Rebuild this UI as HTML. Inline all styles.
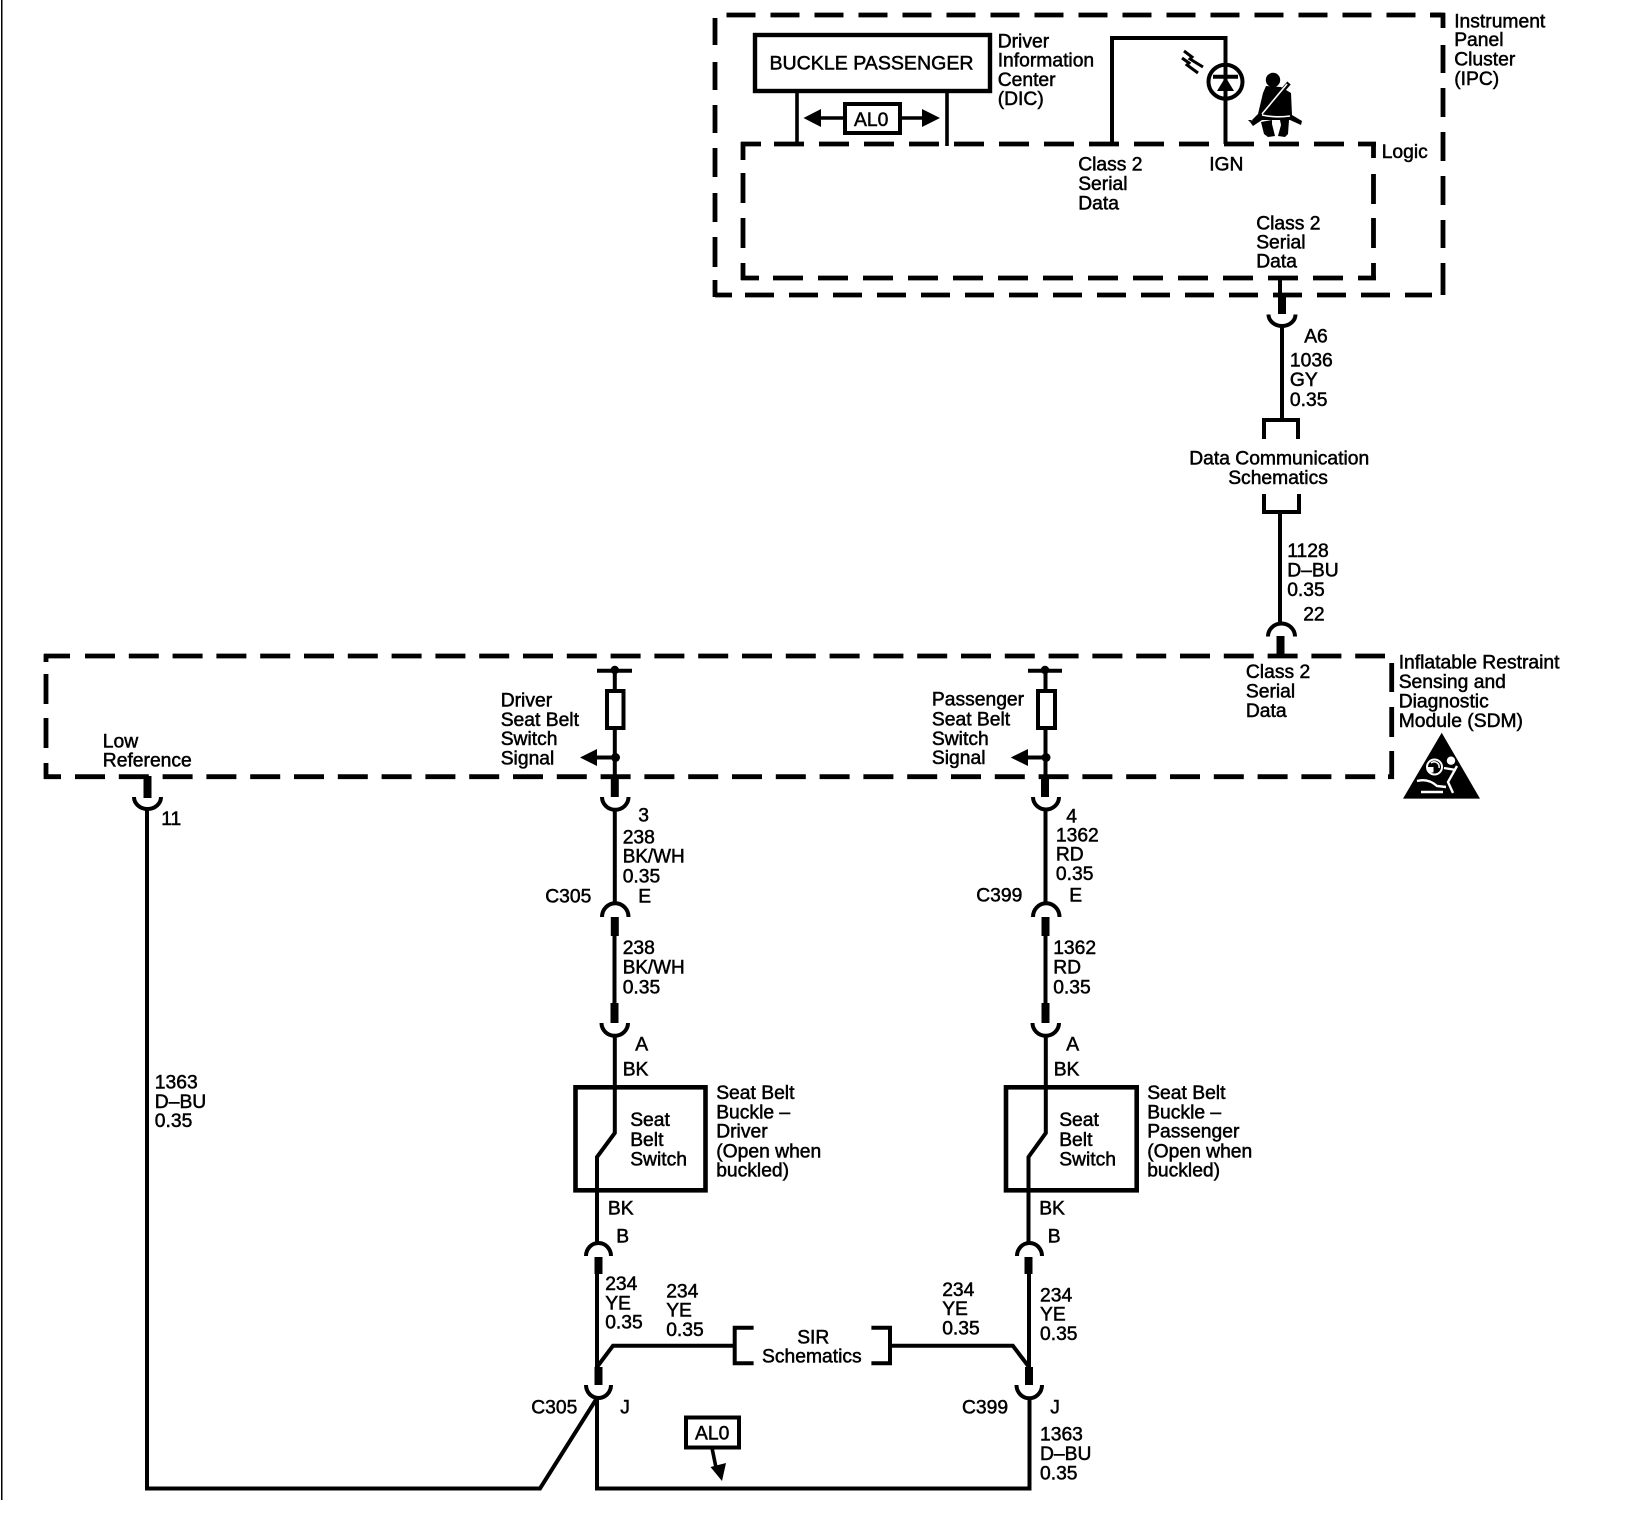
<!DOCTYPE html>
<html><head><meta charset="utf-8"><style>
html,body{margin:0;padding:0;background:#fff}
svg{display:block}
text{font-family:"Liberation Sans",sans-serif;font-size:19.3px;fill:#000;stroke:#000;stroke-width:.5}
.w{fill:none;stroke:#000;stroke-width:4}
.t{fill:none;stroke:#000;stroke-width:8}
.d{fill:none;stroke:#000;stroke-width:4.8}
.a{fill:none;stroke:#000;stroke-width:3.6}
.f{fill:#000;stroke:none}
</style></head><body>
<svg width="1644" height="1520" viewBox="0 0 1644 1520" xmlns="http://www.w3.org/2000/svg">
<rect x="1" y="0" width="1.5" height="1500" fill="#000"/>

<!-- IPC outer dashed -->
<g class="d">
<path d="M726.5 15H1443" stroke-dasharray="29 15"/>
<path d="M1443 13V28M1443 45V73M1443 88V117M1443 132V161M1443 176V205M1443 220V248M1443 263V295"/>
<path d="M715 18V45M715 62V90M715 105V133M715 148V177M715 193V222M715 237V267M715 280V297"/>
<path d="M715 295H732"/>
<path d="M745 295H1432" stroke-dasharray="29 15"/>
<path d="M1430 15H1445"/>
</g>
<!-- Logic dashed -->
<g class="d">
<path d="M741 144H761"/>
<path d="M774 144H1358" stroke-dasharray="30 15"/>
<path d="M1358 144H1376"/>
<path d="M743 142V160M743 173V203M743 218V248M743 263V280"/>
<path d="M1373.5 142V158M1373.5 174V204M1373.5 218V248M1373.5 263V280"/>
<path d="M741 278H759"/>
<path d="M773 278H1358" stroke-dasharray="30 15"/>
<path d="M1358 278H1376"/>
</g>
<!-- SDM dashed -->
<g class="d">
<path d="M44 656H70"/>
<path d="M85 656H1385" stroke-dasharray="30 13.8"/>
<path d="M46 654V662M46 674V704M46 718V748M46 763V779"/>
<path d="M1391.7 663V692M1391.7 707V737M1391.7 751V779"/>
<path d="M44 776.7H61"/>
<path d="M75 776.7H1380" stroke-dasharray="30 13.8"/>
<path d="M1388 776.7H1394"/>
</g>

<!-- Buckle passenger box -->
<rect x="755" y="35" width="235" height="56" fill="none" stroke="#000" stroke-width="4.4"/>
<text x="769.500" y="69.500" textLength="204" lengthAdjust="spacingAndGlyphs">BUCKLE PASSENGER</text>
<path class="a" d="M797 91V144M947 91V146"/>
<rect x="845" y="104" width="55" height="29" fill="none" stroke="#000" stroke-width="4"/>
<text x="854" y="126">AL0</text>
<path class="f" d="M803.5 118L821 109V127Z"/>
<path class="f" d="M940 118L922 109V127Z"/>
<path class="a" d="M818 118H845M900 118H925"/>

<!-- Class 2 / lamp -->
<path class="w" d="M1112 144V38H1225.5V144"/>
<circle cx="1225.5" cy="81.7" r="17" fill="#fff" stroke="#000" stroke-width="4"/>
<path class="w" d="M1225.5 64V100"/>
<path class="w" stroke-width="3" d="M1213 76.7H1238"/>
<path class="f" d="M1225.5 77L1234 91H1217Z"/>
<path fill="none" stroke="#000" stroke-width="3" d="M1184 51L1192 57L1190 59L1203 67M1182 58L1189 63L1187 65L1198 73"/>
<!-- Seat belt icon -->
<circle cx="1273" cy="80" r="7.200" class="f"/>
<path class="f" d="M1266 86L1281 87L1291 93L1292 115L1302 121L1301 125L1290 120L1248 120L1250 122L1258 114L1263 93Z"/>
<path class="f" d="M1261 122L1272 120L1272 124L1275 136L1268 137L1264 134Z"/>
<path class="f" d="M1289 120L1280 120L1281 125L1278 136L1285 137L1288 134Z"/>
<path class="f" d="M1250 122L1262 113L1265 118L1253 126Z"/>
<path fill="none" stroke="#000" stroke-width="4.500" d="M1289 83L1283 90"/>
<path fill="none" stroke="#fff" stroke-width="1.600" d="M1287 84L1262 114M1262 115Q1275 118 1290 116"/>

<!-- Wire 1036 -->
<path class="w" d="M1280 278V296"/>
<path class="t" d="M1282 295V314"/>
<path class="w" stroke-width="3.6" d="M1268.500 314.500A13.500 11.500 0 0 0 1295.500 314.500"/>
<path class="w" d="M1282 326V420"/>
<path class="w" d="M1264 439V420H1298V439"/>
<path class="w" d="M1264 494V512H1299V494"/>
<path class="w" d="M1280 512V623"/>
<path class="w" stroke-width="3.600" d="M1268 636.500A13.500 13 0 0 1 1295 636.500"/>
<path class="t" d="M1280.500 636V656"/>

<!-- Low Reference wire -->
<path class="t" d="M147.500 776V798"/>
<path class="w" stroke-width="3.600" d="M134 797A13.500 12 0 0 0 161 797"/>
<path class="w" d="M147 808V1490"/>
<path class="w" d="M145 1488.500H540L597 1398"/>

<!-- Driver wire -->
<path class="w" d="M597 670.700H632"/>
<circle cx="614.800" cy="670" r="4.200" class="f"/>
<path class="w" d="M614.800 667V691"/>
<rect x="607" y="691" width="16.500" height="37" fill="#fff" stroke="#000" stroke-width="4"/>
<path class="w" d="M614.800 728V776"/>
<circle cx="615.500" cy="757.500" r="4.500" class="f"/>
<path class="f" d="M580 757.500L597 749V766Z"/>
<path class="w" d="M595 757.500H615"/>
<path class="t" d="M614.800 776V797"/>
<path class="w" stroke-width="3.600" d="M602 797A13 12.500 0 0 0 628.500 797"/>
<path class="w" d="M614.800 809V903"/>
<path class="w" stroke-width="3.600" d="M602 917A13 13.500 0 0 1 628.500 917"/>
<path class="t" d="M614.800 917V936"/>
<path class="w" d="M614.500 936V1004"/>
<path class="t" d="M614.500 1003V1023"/>
<path class="w" stroke-width="3.600" d="M601.500 1023A13 12.500 0 0 0 628 1023"/>
<path class="w" d="M614.800 1035V1133L597 1157V1244"/>
<rect x="575.500" y="1087.300" width="130" height="103" fill="none" stroke="#000" stroke-width="4.600"/>
<path class="w" stroke-width="3.600" d="M586 1256A12.500 13 0 0 1 611 1256"/>
<path class="t" d="M598.500 1257V1274"/>
<path class="w" d="M597 1274V1367"/>
<path class="t" d="M598.500 1367V1385"/>
<path class="w" stroke-width="3.600" d="M586 1385A12.500 13 0 0 0 611 1385"/>
<path class="w" d="M597 1367L613 1345.700H735"/>
<path class="w" d="M753.600 1327.700H734.700V1363.300H753.600"/>
<path class="w" d="M871.400 1327.700H890V1363.300H871.400"/>
<path class="w" d="M890 1345.700H1012.800L1029 1367"/>

<!-- Passenger wire -->
<path class="w" d="M1028 670.700H1062"/>
<circle cx="1045" cy="670" r="4.200" class="f"/>
<path class="w" d="M1045.500 667V691"/>
<rect x="1038" y="691" width="17" height="37" fill="#fff" stroke="#000" stroke-width="4"/>
<path class="w" d="M1045.500 728V776"/>
<circle cx="1046" cy="757.500" r="4.500" class="f"/>
<path class="f" d="M1010.700 757.500L1028 749V766Z"/>
<path class="w" d="M1026 757.500H1046"/>
<path class="t" d="M1045 776V797"/>
<path class="w" stroke-width="3.600" d="M1033 797A13 12.500 0 0 0 1059 797"/>
<path class="w" d="M1045.500 809V903"/>
<path class="w" stroke-width="3.600" d="M1033 917A13 13.500 0 0 1 1059.500 917"/>
<path class="t" d="M1045.500 917V936"/>
<path class="w" d="M1045.500 936V1004"/>
<path class="t" d="M1045.500 1003V1023"/>
<path class="w" stroke-width="3.600" d="M1032.500 1023A13 12.500 0 0 0 1059 1023"/>
<path class="w" d="M1045.800 1035V1133L1028.500 1157V1244"/>
<rect x="1006" y="1087.300" width="130.700" height="103" fill="none" stroke="#000" stroke-width="4.600"/>
<path class="w" stroke-width="3.600" d="M1017 1256A12.500 13 0 0 1 1042 1256"/>
<path class="t" d="M1028.500 1257V1274"/>
<path class="w" d="M1029 1274V1367"/>
<path class="t" d="M1029 1367V1385"/>
<path class="w" stroke-width="3.600" d="M1016.500 1385A12.500 13 0 0 0 1042 1385"/>
<path class="w" d="M597 1398V1488.500H1029.500V1398"/>

<!-- AL0 lower -->
<rect x="686" y="1417.500" width="53" height="30" fill="#fff" stroke="#000" stroke-width="4"/>
<text x="695" y="1439.300">AL0</text>
<path class="a" d="M712 1448L716.500 1470"/>
<path class="f" d="M722 1481L710.500 1467L726 1463Z"/>

<!-- SDM triangle -->
<path class="f" d="M1441.700 732.700L1480 798.600H1403Z"/>
<g fill="none" stroke="#fff">
<circle cx="1434.500" cy="767" r="7.500" stroke-width="2"/>
<path stroke-width="1.500" d="M1431 763A5 5 0 0 1 1439 768"/>
<path stroke-width="2.400" d="M1417 781Q1428 778 1437 786L1446 787M1421 792H1443M1457 766L1448 782L1453 793M1444 768L1456 770"/>
</g>
<circle cx="1451" cy="760.700" r="4.200" fill="#fff"/>
<rect x="1428" y="767" width="5.500" height="5.500" fill="#fff"/>

<g transform="translate(-.8 0)">
<!-- Labels: IPC -->
<text x="1455" y="27.300">Instrument</text>
<text x="1455" y="46">Panel</text>
<text x="1455" y="65.700">Cluster</text>
<text x="1455" y="85">(IPC)</text>
<text x="998.500" y="47.700">Driver</text>
<text x="998.500" y="66.700">Information</text>
<text x="998.500" y="86">Center</text>
<text x="998.500" y="105">(DIC)</text>
<text x="1382.500" y="157.800">Logic</text>
<text x="1079" y="170.700">Class 2</text>
<text x="1079" y="190">Serial</text>
<text x="1079" y="209.300">Data</text>
<text x="1210" y="170.700">IGN</text>
<text x="1257" y="229.300">Class 2</text>
<text x="1257" y="248.300">Serial</text>
<text x="1257" y="267.700">Data</text>

<text x="1305" y="342.300">A6</text>
<text x="1290.700" y="366.600">1036</text>
<text x="1290.700" y="386.200">GY</text>
<text x="1290.700" y="405.800">0.35</text>
<text x="1190" y="464.600">Data Communication</text>
<text x="1229" y="484.200">Schematics</text>
<text x="1288" y="557">1128</text>
<text x="1288" y="576.500">D&#8211;BU</text>
<text x="1288" y="595.800">0.35</text>
<text x="1304" y="620.500">22</text>
<text x="1246.700" y="678">Class 2</text>
<text x="1246.700" y="697.400">Serial</text>
<text x="1246.700" y="716.800">Data</text>
<text x="1399.500" y="668.500">Inflatable Restraint</text>
<text x="1399.500" y="687.800">Sensing and</text>
<text x="1399.500" y="707.400">Diagnostic</text>
<text x="1399.500" y="727">Module (SDM)</text>

<!-- Labels: left -->
<text x="103.600" y="747.300">Low</text>
<text x="103.600" y="766.700">Reference</text>
<text x="162" y="825">11</text>
<text x="155.600" y="1088.300">1363</text>
<text x="155.600" y="1107.800">D&#8211;BU</text>
<text x="155.600" y="1127">0.35</text>

<!-- Labels: driver -->
<text x="501.500" y="706.700">Driver</text>
<text x="501.500" y="726">Seat Belt</text>
<text x="501.500" y="745">Switch</text>
<text x="501.500" y="764.300">Signal</text>
<text x="639" y="821.700">3</text>
<text x="623.500" y="843.300">238</text>
<text x="623.500" y="862.700" textLength="62" lengthAdjust="spacingAndGlyphs">BK/WH</text>
<text x="623.500" y="882.300">0.35</text>
<text x="546" y="902.300">C305</text>
<text x="639" y="902.300">E</text>
<text x="623.500" y="954">238</text>
<text x="623.500" y="973.300" textLength="62" lengthAdjust="spacingAndGlyphs">BK/WH</text>
<text x="623.500" y="993.300">0.35</text>
<text x="636" y="1050.700">A</text>
<text x="623.500" y="1075.700">BK</text>
<text x="631" y="1126">Seat</text>
<text x="631" y="1146">Belt</text>
<text x="631" y="1165.700">Switch</text>
<text x="717" y="1099">Seat Belt</text>
<text x="717" y="1118.300">Buckle &#8211;</text>
<text x="717" y="1137.300">Driver</text>
<text x="717" y="1157.300">(Open when</text>
<text x="717" y="1176.700">buckled)</text>
<text x="608.700" y="1214.300">BK</text>
<text x="617" y="1242.300">B</text>
<text x="606" y="1290">234</text>
<text x="606" y="1309.500">YE</text>
<text x="606" y="1328.300">0.35</text>
<text x="667" y="1297.700">234</text>
<text x="667" y="1316.700">YE</text>
<text x="667" y="1336">0.35</text>
<text x="798" y="1343.300">SIR</text>
<text x="762.800" y="1362.700">Schematics</text>
<text x="943" y="1296">234</text>
<text x="943" y="1315">YE</text>
<text x="943" y="1334.300">0.35</text>
<text x="532" y="1413.300">C305</text>
<text x="621" y="1413.300">J</text>

<!-- Labels: passenger -->
<text x="932.700" y="705.700">Passenger</text>
<text x="932.700" y="725.700">Seat Belt</text>
<text x="932.700" y="745">Switch</text>
<text x="932.700" y="764">Signal</text>
<text x="1067" y="822.300">4</text>
<text x="1056.700" y="841.500">1362</text>
<text x="1056.700" y="860.500">RD</text>
<text x="1056.700" y="880">0.35</text>
<text x="977" y="901.500">C399</text>
<text x="1070" y="901.500">E</text>
<text x="1054" y="954">1362</text>
<text x="1054" y="973.300">RD</text>
<text x="1054" y="993.300">0.35</text>
<text x="1067" y="1050.700">A</text>
<text x="1054.500" y="1075.700">BK</text>
<text x="1060" y="1126">Seat</text>
<text x="1060" y="1146">Belt</text>
<text x="1060" y="1165.700">Switch</text>
<text x="1148" y="1099">Seat Belt</text>
<text x="1148" y="1118.300">Buckle &#8211;</text>
<text x="1148" y="1137.300">Passenger</text>
<text x="1148" y="1157.300">(Open when</text>
<text x="1148" y="1176.700">buckled)</text>
<text x="1040" y="1214.300">BK</text>
<text x="1048.500" y="1242.300">B</text>
<text x="1040.800" y="1301.700">234</text>
<text x="1040.800" y="1320.700">YE</text>
<text x="1040.800" y="1340">0.35</text>
<text x="962.800" y="1413.300">C399</text>
<text x="1051" y="1413.300">J</text>
<text x="1040.800" y="1440.500">1363</text>
<text x="1040.800" y="1460">D&#8211;BU</text>
<text x="1040.800" y="1479.300">0.35</text>
</g>
</svg>
</body></html>
